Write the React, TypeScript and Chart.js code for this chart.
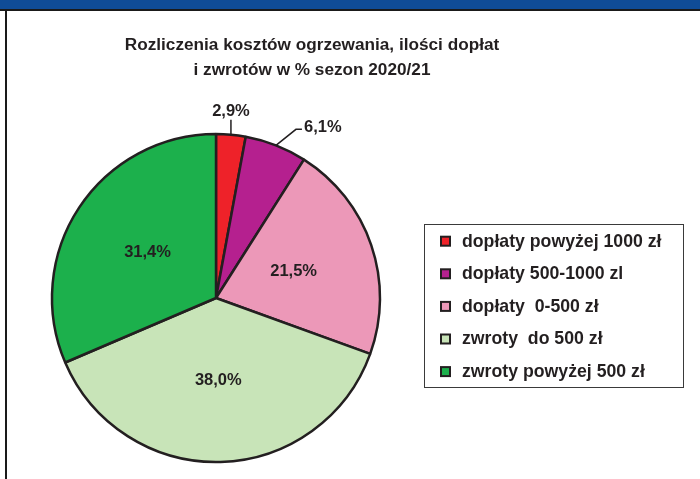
import React, { useEffect, useRef } from "react";
import { Chart, registerables } from "chart.js";

Chart.register(...registerables);

const titleLines = ["Rozliczenia kosztów ogrzewania, ilości dopłat", "i zwrotów w % sezon 2020/21"];
const categories = [
  "dopłaty powyżej 1000 zł",
  "dopłaty 500-1000 zl",
  "dopłaty  0-500 zł",
  "zwroty  do 500 zł",
  "zwroty powyżej 500 zł",
];
const values = [2.9, 6.1, 21.5, 38.0, 31.4];
const valueLabels = ["2,9%", "6,1%", "21,5%", "38,0%", "31,4%"];
const colors = ["#ee2229", "#b5208f", "#ec98b8", "#c8e4b8", "#1cb04c"];

const FONT = "'Liberation Sans', Arial, sans-serif";
const DARK = "#231f20";

const decorPlugin = {
  id: "decor",
  beforeDraw(chart: any) {
    const ctx = chart.ctx;
    ctx.save();
    ctx.fillStyle = "#ffffff";
    ctx.fillRect(0, 0, chart.width, chart.height);
    ctx.fillStyle = "#0f4c97";
    ctx.fillRect(0, 0, chart.width, 9);
    ctx.fillStyle = "#1a1a1a";
    ctx.fillRect(0, 9, chart.width, 2);
    ctx.fillRect(5, 9, 2, chart.height - 9);
    // title
    ctx.fillStyle = DARK;
    ctx.font = `bold 17.2px ${FONT}`;
    ctx.textAlign = "center";
    ctx.textBaseline = "middle";
    ctx.fillText(titleLines[0], 312, 45);
    ctx.fillText(titleLines[1], 312, 70);
    ctx.restore();
  },
  afterDraw(chart: any) {
    const ctx = chart.ctx;
    const meta = chart.getDatasetMeta(0);
    ctx.save();
    ctx.font = `bold 16.5px ${FONT}`;
    ctx.fillStyle = DARK;
    ctx.textBaseline = "middle";
    meta.data.forEach((arc: any, i: number) => {
      const { x, y, startAngle, endAngle, outerRadius } = arc.getProps(
        ["x", "y", "startAngle", "endAngle", "outerRadius"],
        true
      );
      const mid = (startAngle + endAngle) / 2;
      const cos = Math.cos(mid);
      const sin = Math.sin(mid);
      if (values[i] > 10) {
        const r = outerRadius * 0.5;
        ctx.textAlign = "center";
        ctx.fillText(valueLabels[i], x + cos * r, y + sin * r);
      } else {
        const ex = x + cos * outerRadius;
        const ey = y + sin * outerRadius;
        ctx.strokeStyle = DARK;
        ctx.lineWidth = 1.5;
        ctx.beginPath();
        if (i === 0) {
          ctx.moveTo(ex, ey);
          ctx.lineTo(ex, ey - 15);
          ctx.stroke();
          ctx.textAlign = "center";
          ctx.fillText(valueLabels[i], ex, ey - 23);
        } else {
          ctx.moveTo(ex, ey);
          ctx.lineTo(ex + 20, ey - 16);
          ctx.lineTo(ex + 26, ey - 16);
          ctx.stroke();
          ctx.textAlign = "left";
          ctx.fillText(valueLabels[i], ex + 28, ey - 18);
        }
      }
    });
    // legend
    const lx = 424, ly = 224, lw = 259, lh = 163;
    ctx.strokeStyle = "#3a3a3a";
    ctx.lineWidth = 1;
    ctx.strokeRect(lx + 0.5, ly + 0.5, lw, lh);
    ctx.textAlign = "left";
    ctx.font = `bold 17.7px ${FONT}`;
    categories.forEach((c, i) => {
      const cy = 240.7 + i * 32.6;
      ctx.fillStyle = DARK;
      ctx.fillRect(440, cy - 5, 11, 11);
      ctx.fillStyle = colors[i];
      ctx.fillRect(442, cy - 3, 7, 7);
      ctx.fillStyle = DARK;
      ctx.fillText(c, 462, cy + 1);
    });
    ctx.restore();
  },
};

export default function App() {
  const ref = useRef<HTMLCanvasElement>(null);
  useEffect(() => {
    if (!ref.current) return;
    const chart = new Chart(ref.current, {
      type: "pie",
      data: {
        labels: categories,
        datasets: [
          {
            data: values,
            backgroundColor: colors,
            borderColor: DARK,
            borderWidth: 2.5,
          },
        ],
      },
      options: {
        responsive: false,
        animation: false,
        radius: 164,
        layout: { padding: { left: 46, right: 314, top: 128, bottom: 11 } },
        plugins: {
          legend: { display: false },
          title: { display: false },
          tooltip: { enabled: false },
        },
        events: [],
      } as any,
      plugins: [decorPlugin],
    });
    return () => chart.destroy();
  }, []);
  return (
    <div style={{ position: "fixed", left: 0, top: 0, width: 700, height: 479, background: "#fff" }}>
      <canvas ref={ref} width={700} height={479} style={{ width: 700, height: 479, display: "block" }} />
    </div>
  );
}
